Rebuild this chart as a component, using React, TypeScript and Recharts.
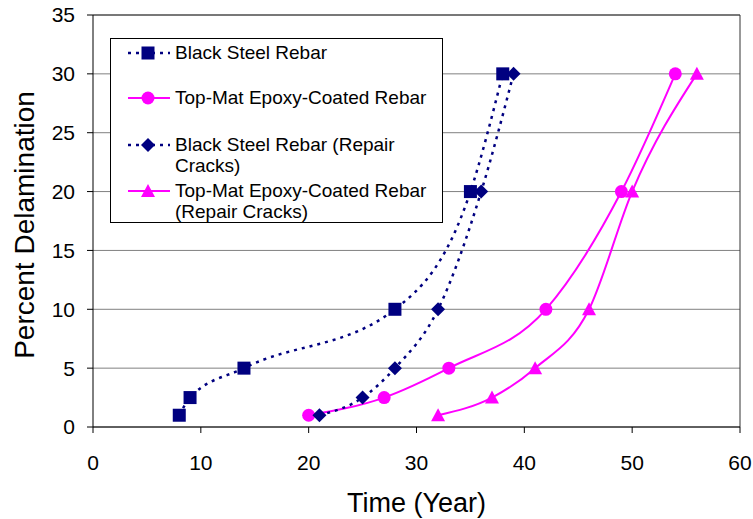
import { LineChart, Line, XAxis, YAxis, CartesianGrid, ReferenceLine } from 'recharts';

const FONT = '"Liberation Sans", Arial, sans-serif';
const NAVY = '#000080';
const MAGENTA = '#FF00FF';

const blackYears = [8, 9, 14, 28, 35, 38];
const blackPct = [1, 2.5, 5, 10, 20, 30];
const epoxyYears = [20, 27, 33, 42, 49, 54];
const epoxyPct = [1, 2.5, 5, 10, 20, 30];
const blackRepairYears = [21, 25, 28, 32, 36, 39];
const blackRepairPct = [1, 2.5, 5, 10, 20, 30];
const epoxyRepairYears = [32, 37, 41, 46, 50, 56];
const epoxyRepairPct = [1, 2.5, 5, 10, 20, 30];

const xTicks = [0, 10, 20, 30, 40, 50, 60];
const yTicks = [0, 5, 10, 15, 20, 25, 30, 35];

const toRows = (xs: number[], ys: number[]) => xs.map((x, i) => ({ x, y: ys[i] }));

const blackData = toRows(blackYears, blackPct);
const epoxyData = toRows(epoxyYears, epoxyPct);
const blackRepairData = toRows(blackRepairYears, blackRepairPct);
const epoxyRepairData = toRows(epoxyRepairYears, epoxyRepairPct);

// marker shapes
const Square = ({ cx, cy }: any) => <rect x={cx - 6.5} y={cy - 6.5} width={13} height={13} fill={NAVY} />;
const Diamond = ({ cx, cy }: any) => (
  <polygon points={`${cx},${cy - 7} ${cx + 7},${cy} ${cx},${cy + 7} ${cx - 7},${cy}`} fill={NAVY} />
);
const Circle = ({ cx, cy }: any) => <circle cx={cx} cy={cy} r={6.5} fill={MAGENTA} />;
const Triangle = ({ cx, cy }: any) => (
  <polygon points={`${cx},${cy - 7} ${cx + 7},${cy + 6} ${cx - 7},${cy + 6}`} fill={MAGENTA} />
);

const legendItems = [
  { lines: ['Black Steel Rebar'], color: NAVY, dashed: true, Marker: Square, top: 14 },
  { lines: ['Top-Mat Epoxy-Coated Rebar'], color: MAGENTA, dashed: false, Marker: Circle, top: 59 },
  { lines: ['Black Steel Rebar (Repair', 'Cracks)'], color: NAVY, dashed: true, Marker: Diamond, top: 106 },
  { lines: ['Top-Mat Epoxy-Coated Rebar', '(Repair Cracks)'], color: MAGENTA, dashed: false, Marker: Triangle, top: 152 },
];

const ChartLegend = () => (
  <div
    style={{
      position: 'absolute',
      left: 110,
      top: 38,
      width: 333,
      height: 185,
      border: '1px solid #000',
      background: '#fff',
      boxSizing: 'border-box',
      fontFamily: FONT,
      fontSize: 19,
      color: '#000',
    }}
  >
    {legendItems.map((item) => (
      <div key={item.lines[0]} style={{ position: 'absolute', left: 16, top: item.top - 10 }}>
        <svg width={44} height={20} style={{ position: 'absolute', left: 0, top: 0 }}>
          <line
            x1={1}
            y1={10}
            x2={43}
            y2={10}
            stroke={item.color}
            strokeWidth={item.dashed ? 2.5 : 2}
            strokeDasharray={item.dashed ? '3 5' : undefined}
          />
          <item.Marker cx={21} cy={10} />
        </svg>
        <div style={{ position: 'absolute', left: 48, top: -1, whiteSpace: 'nowrap', lineHeight: '21px' }}>
          {item.lines.map((l) => (
            <div key={l}>{l}</div>
          ))}
        </div>
      </div>
    ))}
  </div>
);

const tickStyle = { fontSize: 21, fill: '#000', fontFamily: FONT };

const App = () => {
  return (
    <div style={{ position: 'absolute', left: 0, top: 0, width: 753, height: 519 }}>
      <LineChart width={753} height={519} margin={{ top: 15, right: 13, left: 0, bottom: 0 }}>
        <CartesianGrid vertical={false} stroke="#808080" strokeWidth={1} />
        <XAxis
          type="number"
          dataKey="x"
          domain={[0, 60]}
          ticks={xTicks}
          allowDuplicatedCategory={false}
          height={92}
          tickSize={6}
          tickMargin={22}
          stroke="#000"
          tick={tickStyle}
          label={{
            content: ({ viewBox }: any) => (
              <text
                x={viewBox.x + viewBox.width / 2}
                y={viewBox.y + 85}
                textAnchor="middle"
                fontSize={27}
                fontFamily={FONT}
                fill="#000"
              >
                Time (Year)
              </text>
            ),
          }}
        />
        <YAxis
          type="number"
          dataKey="y"
          domain={[0, 35]}
          ticks={yTicks}
          width={93}
          tickSize={6}
          tickMargin={12}
          stroke="#000"
          tick={tickStyle}
          label={{
            content: ({ viewBox }: any) => {
              const cx = viewBox.x + 24;
              const cy = viewBox.y + viewBox.height / 2 + 4;
              return (
                <text
                  x={cx}
                  y={cy}
                  textAnchor="middle"
                  dominantBaseline="central"
                  transform={`rotate(-90 ${cx} ${cy})`}
                  fontSize={28}
                  fontFamily={FONT}
                  fill="#000"
                >
                  Percent Delamination
                </text>
              );
            },
          }}
        />
        <ReferenceLine y={35} stroke="#333" />
        <ReferenceLine x={60} stroke="#333" />
        <Line
          data={blackData}
          dataKey="y"
          type="monotone"
          stroke={NAVY}
          strokeWidth={2.5}
          strokeDasharray="3 5"
          dot={(p: any) => <Square key={`s${p.index}`} {...p} />}
          activeDot={false}
          isAnimationActive={false}
        />
        <Line
          data={epoxyData}
          dataKey="y"
          type="monotone"
          stroke={MAGENTA}
          strokeWidth={2}
          dot={(p: any) => <Circle key={`c${p.index}`} {...p} />}
          activeDot={false}
          isAnimationActive={false}
        />
        <Line
          data={blackRepairData}
          dataKey="y"
          type="monotone"
          stroke={NAVY}
          strokeWidth={2.5}
          strokeDasharray="3 5"
          dot={(p: any) => <Diamond key={`d${p.index}`} {...p} />}
          activeDot={false}
          isAnimationActive={false}
        />
        <Line
          data={epoxyRepairData}
          dataKey="y"
          type="monotone"
          stroke={MAGENTA}
          strokeWidth={2}
          dot={(p: any) => <Triangle key={`t${p.index}`} {...p} />}
          activeDot={false}
          isAnimationActive={false}
        />
      </LineChart>
      <ChartLegend />
    </div>
  );
};

export default App;
